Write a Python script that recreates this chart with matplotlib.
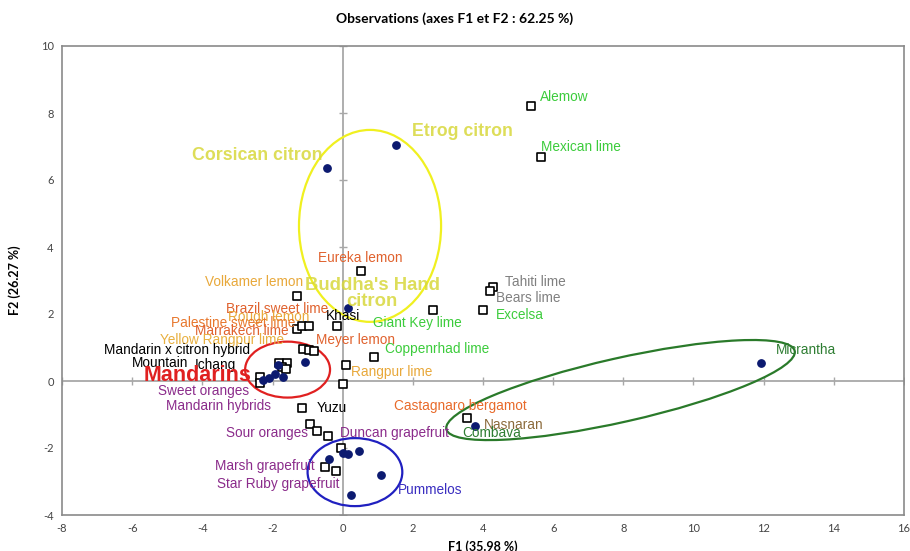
import matplotlib
matplotlib.use("Agg")
import matplotlib.pyplot as plt
from matplotlib.patches import Ellipse

plt.rcParams["axes.unicode_minus"] = False

# observations drawn as open squares (F1, F2)
sq_x = [5.37, 5.65, 0.52, -1.31, 4.28, 4.20, 4.00, 2.57, -0.17,
        -1.29, -1.15, -0.95, -1.12, -0.97, -0.81,
        -1.81, -1.60, -1.74, -1.62, -2.35, -2.35,
        0.89, 0.09, 0.02, -1.17, -0.93, -0.74, -0.41, -0.06,
        -0.50, -0.19, 3.53]
sq_y = [8.21, 6.69, 3.28, 2.54, 2.80, 2.70, 2.12, 2.12, 1.63,
        1.55, 1.63, 1.63, 0.95, 0.92, 0.90,
        0.54, 0.53, 0.41, 0.36, 0.13, -0.05,
        0.71, 0.48, -0.09, -0.82, -1.29, -1.48, -1.63, -1.99,
        -2.56, -2.68, -1.11]

# observations drawn as filled dots
dot_x = [1.52, -0.45, 0.15, -1.07, -1.83, -1.93, -1.71, -2.09, -2.28,
         0.02, 0.16, 0.46, -0.38, 1.10, 0.25, 3.77, 11.92]
dot_y = [7.04, 6.36, 2.18, 0.56, 0.48, 0.20, 0.13, 0.08, 0.03,
         -2.16, -2.18, -2.09, -2.34, -2.81, -3.40, -1.34, 0.55]

# labels: text, x, y, colour, size, weight
labels = [
    ("Alemow", 5.62, 8.48, "#3ccc3c", 9.8, "normal"),
    ("Mexican lime", 5.65, 6.99, "#3ccc3c", 9.8, "normal"),
    ("Etrog citron", 1.98, 7.46, "#d8d83c", 12.8, "bold"),
    ("Corsican citron", -4.30, 6.72, "#d8d83c", 12.8, "bold"),
    ("Eureka lemon", -0.70, 3.67, "#e0622e", 9.8, "normal"),
    ("Volkamer lemon", -3.93, 2.96, "#e8a83a", 9.8, "normal"),
    ("Tahiti lime", 4.63, 2.96, "#808080", 9.8, "normal"),
    ("Bears lime", 4.37, 2.48, "#808080", 9.8, "normal"),
    ("Excelsa", 4.37, 1.97, "#3ccc3c", 9.8, "normal"),
    ("Giant Key lime", 0.86, 1.73, "#3ccc3c", 9.8, "normal"),
    ("Khasi", -0.48, 1.94, "black", 9.8, "normal"),
    ("Brazil sweet lime", -3.33, 2.15, "#e0622e", 9.8, "normal"),
    ("Rough lemon", -3.27, 1.91, "#e8a83a", 9.8, "normal"),
    ("Palestine sweet lime", -4.89, 1.73, "#e8782e", 9.8, "normal"),
    ("Marrakech lime", -4.21, 1.49, "#e0622e", 9.8, "normal"),
    ("Yellow Rangpur lime", -5.21, 1.22, "#e8b040", 9.8, "normal"),
    ("Meyer lemon", -0.76, 1.22, "#e0622e", 9.8, "normal"),
    ("Mandarin x citron hybrid", -6.80, 0.93, "black", 9.8, "normal"),
    ("Coppenrhad lime", 1.21, 0.96, "#3ccc3c", 9.8, "normal"),
    ("Mountain", -6.01, 0.54, "black", 9.8, "normal"),
    ("Ichang", -4.21, 0.48, "black", 9.8, "normal"),
    ("Mandarins", -5.66, 0.15, "#e02020", 15.5, "bold"),
    ("Rangpur lime", 0.24, 0.27, "#e8a83a", 9.8, "normal"),
    ("Sweet oranges", -5.26, -0.30, "#8b2c8b", 9.8, "normal"),
    ("Mandarin hybrids", -5.03, -0.75, "#8b2c8b", 9.8, "normal"),
    ("Yuzu", -0.73, -0.81, "black", 9.8, "normal"),
    ("Castagnaro bergamot", 1.46, -0.75, "#e86a2a", 9.8, "normal"),
    ("Nasnaran", 4.03, -1.31, "#8b6a3a", 9.8, "normal"),
    ("Sour oranges", -3.33, -1.55, "#8b2c8b", 9.8, "normal"),
    ("Duncan grapefruit", -0.08, -1.55, "#8b2c8b", 9.8, "normal"),
    ("Combava", 3.40, -1.55, "#2e7d32", 9.8, "normal"),
    ("Micrantha", 12.35, 0.93, "#2e7d32", 9.8, "normal"),
    ("Marsh grapefruit", -3.64, -2.54, "#8b2c8b", 9.8, "normal"),
    ("Star Ruby grapefruit", -3.58, -3.07, "#8b2c8b", 9.8, "normal"),
    ("Pummelos", 1.58, -3.25, "#3a2ec0", 9.8, "normal"),
]

# group ellipses: centre x, centre y, width, height, angle, colour
groups = [
    (0.78, 4.63, 4.05, 5.73, 0, "#f0f020"),
    (-1.57, 0.34, 2.42, 1.67, 0, "#e02020"),
    (0.35, -2.72, 2.70, 2.03, 0, "#2020c0"),
    (7.92, -0.27, 10.2, 1.9, 13.3, "#2a7a2a"),
]

xticks = list(range(-8, 17, 2))
yticks = list(range(-4, 11, 2))

fig = plt.figure(figsize=(9.1, 5.51), dpi=100)
ax = fig.add_axes([62 / 910, 36 / 551, 842 / 910, 469 / 551])

ax.set_xlim(-8, 16)
ax.set_ylim(-4, 10)

# zero lines with small tick marks
ax.axhline(0, color="#a8a8a8", lw=1.3, zorder=1)
ax.axvline(0, color="#a8a8a8", lw=1.3, zorder=1)
ax.plot(xticks, [0] * len(xticks), ls="none", marker="|", ms=6, color="#a8a8a8", zorder=1)
ax.plot([0] * len(yticks), yticks, ls="none", marker="_", ms=6, color="#a8a8a8", zorder=1)

for cx, cy, w, h, ang, col in groups:
    ax.add_patch(Ellipse((cx, cy), w, h, angle=ang, fill=False,
                         edgecolor=col, lw=1.6, zorder=2))

ax.scatter(sq_x, sq_y, marker="s", s=28, facecolors="white",
           edgecolors="black", linewidths=1.2, zorder=4)
ax.scatter(dot_x, dot_y, marker="o", s=28, color="#0c1a70", zorder=4)

for txt, x, y, col, fs, fw in labels:
    alpha = 0.85 if (fw == "bold" and col != "#e02020") else 1.0
    ax.text(x, y, txt, color=col, fontsize=fs, fontweight=fw,
            family="Liberation Sans", va="center", ha="left", zorder=5, alpha=alpha)

ax.text(0.84, 2.61, "Buddha's Hand\ncitron", color="#d8d83c", fontsize=13.3,
        fontweight="bold", family="Liberation Sans", va="center", ha="center",
        linespacing=0.95, zorder=5, alpha=0.85)

ax.set_xticks(xticks)
ax.set_yticks(yticks)
ax.tick_params(length=0, labelsize=8, labelcolor="#444444", pad=6)
for lab in ax.get_xticklabels() + ax.get_yticklabels():
    lab.set_family("Lato")
for sp in ax.spines.values():
    sp.set_color("#8a8a8a")
    sp.set_linewidth(1.2)

ax.set_xlabel("F1 (35.98 %)", fontsize=9, family="Lato", fontweight="bold", labelpad=4)
ax.set_ylabel("F2 (26.27 %)", fontsize=9, family="Lato", fontweight="bold", labelpad=14)
fig.text(0.5, 0.967, "Observations (axes F1 et F2 : 62.25 %)", ha="center", va="center",
         fontsize=10, family="Lato", fontweight="bold")

fig.savefig("out.png", dpi=100, facecolor="white")
